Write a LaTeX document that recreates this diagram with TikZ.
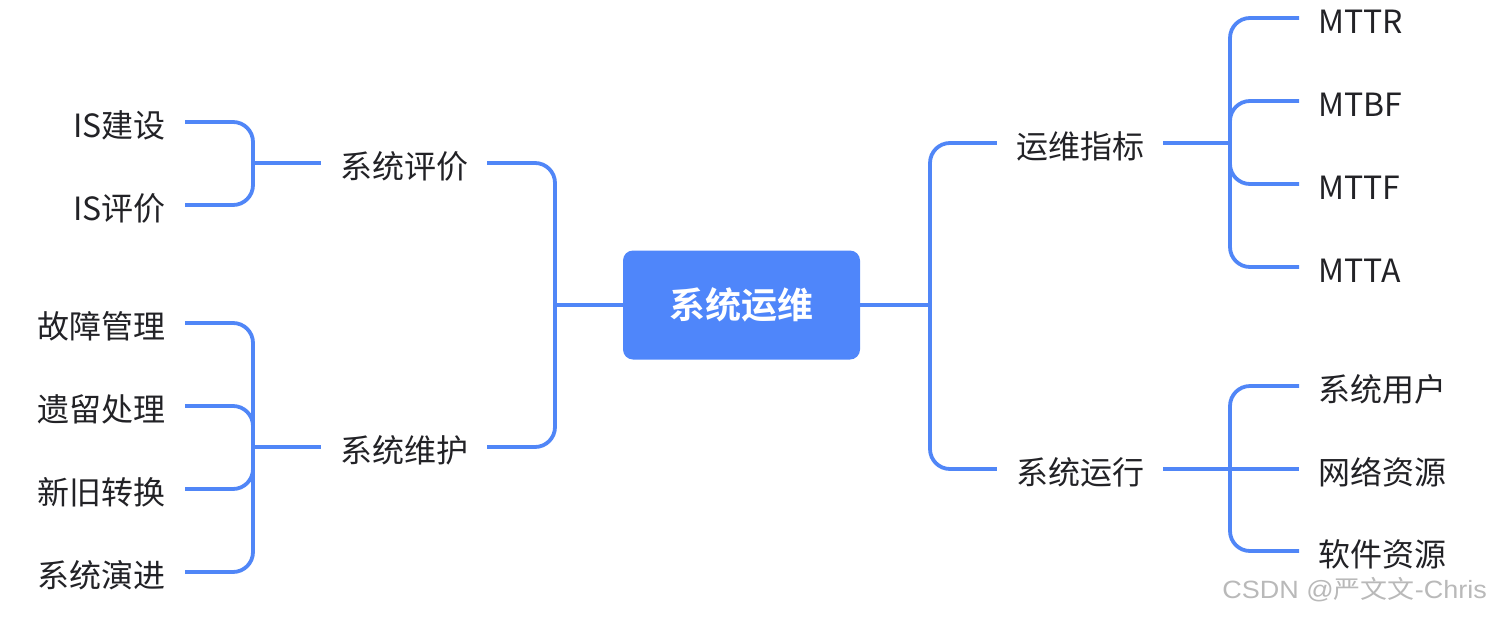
\documentclass[tikz,border=0pt]{standalone}
\usepackage{fontspec}
\setmainfont{Noto Sans CJK SC}
\newfontfamily\cjkbold{Noto Sans CJK SC Bold}
\newfontfamily\wmfont{Liberation Sans}
\definecolor{mapblue}{RGB}{80,134,247}
\definecolor{boxblue}{RGB}{79,134,250}
\definecolor{txt}{RGB}{34,34,38}
\definecolor{wmgray}{RGB}{185,185,185}
\begin{document}
\begin{tikzpicture}[x=1pt,y=-1pt,
  conn/.style={draw=mapblue,line width=3.8pt,rounded corners=20pt},
  lbl/.style={font=\fontsize{32}{32}\selectfont,text=txt,inner xsep=19pt,inner ysep=0pt,text height=31pt,text depth=0pt},
  mid/.style={lbl,inner xsep=19pt,anchor=center},
  leafL/.style={lbl,anchor=east},
  leafR/.style={lbl,anchor=west},
  rootbox/.style={fill=boxblue,rounded corners=10pt,minimum width=237pt,minimum height=109pt,text=white,font=\cjkbold\fontsize{36}{36}\selectfont}
]
\useasboundingbox (0,0) rectangle (1490,616);

% root
\node[rootbox] (root) at (741.5,305) {系统运维};

% level 1
\node[mid] (pj) at (404,163) {系统评价};
\node[mid] (pw) at (404,447) {系统维护};
\node[mid] (yz) at (1080,143) {运维指标};
\node[mid] (yx) at (1080,469) {系统运行};

% left leaves
\node[leafL] (a1) at (185,122) {IS建设};
\node[leafL] (a2) at (185,205) {IS评价};
\node[leafL] (b1) at (185,323) {故障管理};
\node[leafL] (b2) at (185,406) {遗留处理};
\node[leafL] (b3) at (185,489) {新旧转换};
\node[leafL] (b4) at (185,572) {系统演进};

% right leaves
\node[leafR] (c1) at (1299,18) {MTTR};
\node[leafR] (c2) at (1299,101) {MTBF};
\node[leafR] (c3) at (1299,184) {MTTF};
\node[leafR] (c4) at (1299,267) {MTTA};
\node[leafR] (d1) at (1299,386) {系统用户};
\node[leafR] (d2) at (1299,469) {网络资源};
\node[leafR] (d3) at (1299,551) {软件资源};

% junctions
\coordinate (jL) at (555,305);
\coordinate (jR) at (930,305);
\coordinate (jA) at (253,163);
\coordinate (jB) at (253,447);
\coordinate (jC) at (1230,143);
\coordinate (jD) at (1230,469);

% root connectors
\draw[conn] (root.west) -- (jL);
\draw[conn] (pj.east) -| (jL) |- (pw.east);
\draw[conn] (root.east) -- (jR);
\draw[conn] (yz.west) -| (jR) |- (yx.west);

% left children
\draw[conn] (pj.west) -- (jA);
\draw[conn] (jA) |- (a1.east);
\draw[conn] (jA) |- (a2.east);
\draw[conn] (pw.west) -- (jB);
\draw[conn] (jB) |- (b1.east);
\draw[conn] (jB) |- (b2.east);
\draw[conn] (jB) |- (b3.east);
\draw[conn] (jB) |- (b4.east);

% right children
\draw[conn] (yz.east) -- (jC);
\draw[conn] (jC) |- (c1.west);
\draw[conn] (jC) |- (c2.west);
\draw[conn] (jC) |- (c3.west);
\draw[conn] (jC) |- (c4.west);
\draw[conn] (yx.east) -- (jD);
\draw[conn] (jD) |- (d1.west);
\draw[conn] (jD) -- (d2.west);
\draw[conn] (jD) |- (d3.west);

% watermark
\node[anchor=east,text=wmgray,inner sep=0pt,xscale=1.08,font=\fontsize{25}{25}\selectfont] (wm) at (1487,590) {{\wmfont CSDN @}严文文{\wmfont -Chris}};
\end{tikzpicture}
\end{document}
